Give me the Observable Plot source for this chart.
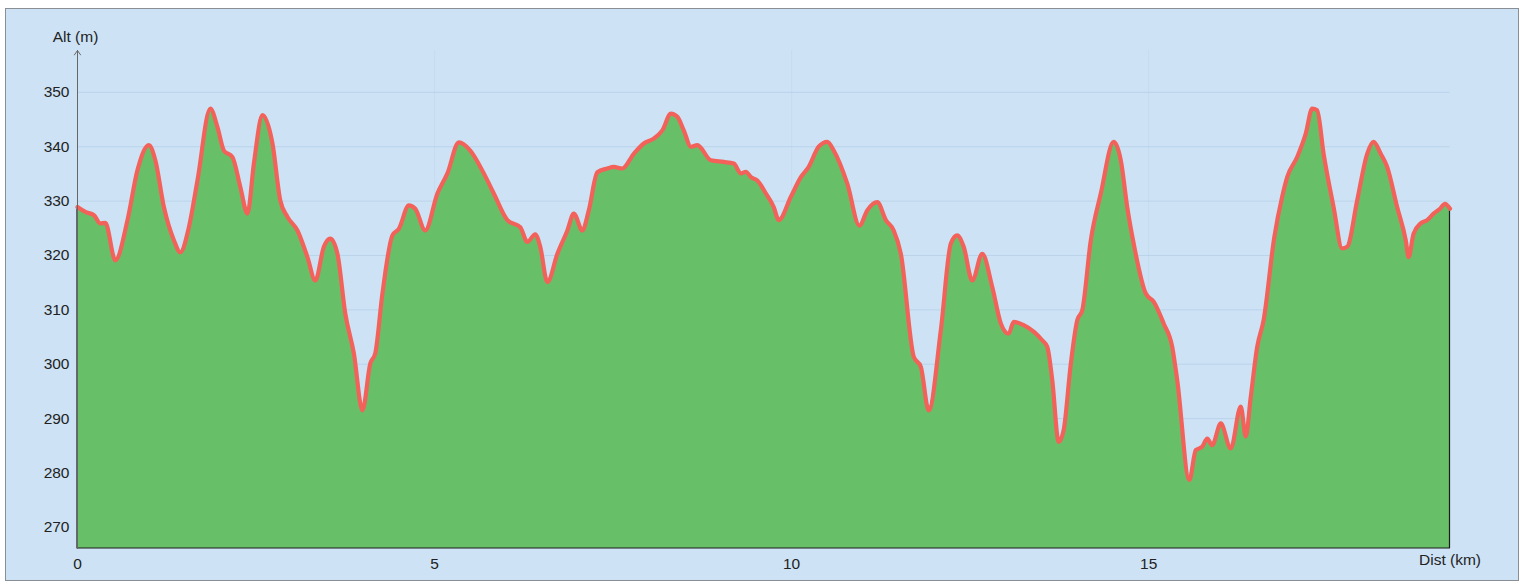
<!DOCTYPE html>
<html>
<head>
<meta charset="utf-8">
<script src="https://cdn.jsdelivr.net/npm/d3@7"></script>
<script src="https://cdn.jsdelivr.net/npm/@observablehq/plot@0.6"></script>
<style>
  html, body { margin: 0; padding: 0; background: #ffffff; }
  #wrap { position: relative; width: 1526px; height: 585px; overflow: hidden; }
  #panel { position: absolute; left: 5px; top: 8px; width: 1512px; height: 571px;
           background: #cde2f5; border: 1px solid #8a8f96; }
  #chart { position: absolute; left: 0; top: 0; }
</style>
</head>
<body>
<div id="wrap"><div id="panel"></div><div id="chart"></div></div>
<script>
// Distance along the route (km)
const dist = [
  0, 0.11, 0.23, 0.32, 0.39, 0.53, 0.70, 0.84, 1.00, 1.09,
  1.21, 1.35, 1.44, 1.56, 1.68, 1.86, 1.96, 2.05, 2.17, 2.28,
  2.38, 2.47, 2.59, 2.73, 2.84, 2.94, 3.08, 3.22, 3.33, 3.45,
  3.54, 3.64, 3.75, 3.87, 3.99, 4.10, 4.17, 4.27, 4.41, 4.50,
  4.64, 4.73, 4.87, 5.04, 5.18, 5.34, 5.50, 5.69, 5.83, 6.02,
  6.20, 6.30, 6.41, 6.48, 6.58, 6.72, 6.86, 6.95, 7.07, 7.16,
  7.28, 7.42, 7.51, 7.63, 7.79, 7.93, 8.07, 8.19, 8.31, 8.40,
  8.49, 8.59, 8.68, 8.87, 9.05, 9.19, 9.29, 9.36, 9.43, 9.52,
  9.64, 9.75, 9.82, 9.99, 10.13, 10.24, 10.38, 10.50, 10.59, 10.78,
  10.95, 11.06, 11.20, 11.32, 11.43, 11.53, 11.71, 11.81, 11.92, 12.09,
  12.23, 12.32, 12.41, 12.53, 12.67, 12.81, 12.93, 13.04, 13.11, 13.25,
  13.39, 13.51, 13.58, 13.65, 13.74, 13.81, 13.91, 14.00, 14.07, 14.19,
  14.33, 14.51, 14.61, 14.70, 14.79, 14.96, 15.07, 15.21, 15.33, 15.40,
  15.57, 15.66, 15.75, 15.82, 15.89, 16.01, 16.15, 16.29, 16.36, 16.43,
  16.52, 16.61, 16.76, 16.87, 16.94, 17.08, 17.20, 17.29, 17.36, 17.45,
  17.59, 17.71, 17.78, 17.92, 18.06, 18.15, 18.25, 18.34, 18.48, 18.60,
  18.64, 18.71, 18.81, 18.90, 18.99, 19.08, 19.15, 19.22
];
// Altitude (m)
const alt = [
  328.9, 328.0, 327.4, 325.9, 326.0, 319.1, 326.5, 335.7, 340.3, 337.5,
  328.9, 322.8, 320.6, 325.2, 333.8, 347.0, 343.6, 339.3, 338.1, 332.6,
  327.7, 336.9, 345.8, 340.6, 330.1, 327.1, 324.6, 319.7, 315.4, 321.6,
  323.1, 320.3, 309.3, 302.0, 291.5, 300.1, 302.0, 313.0, 323.7, 324.9,
  329.2, 328.6, 324.6, 331.4, 335.1, 340.8, 339.3, 335.1, 331.4, 326.5,
  325.2, 322.5, 323.9, 321.6, 315.1, 320.3, 324.6, 327.7, 324.6, 328.3,
  335.3, 336.0, 336.3, 336.0, 338.7, 340.6, 341.5, 343.0, 346.1, 345.5,
  343.0, 340.0, 340.3, 337.5, 337.2, 336.9, 335.1, 335.4, 334.4, 333.8,
  331.4, 328.9, 326.5, 330.8, 334.4, 336.3, 340.0, 340.9, 339.3, 333.2,
  325.5, 328.3, 329.8, 326.5, 324.6, 320.3, 301.4, 299.5, 291.5, 306.3,
  322.2, 323.7, 321.6, 315.4, 320.3, 314.2, 307.5, 305.6, 307.8, 307.2,
  306.0, 304.4, 303.2, 297.1, 285.7, 287.9, 300.1, 308.1, 309.9, 322.8,
  331.4, 340.9, 337.5, 328.9, 322.2, 313.0, 311.5, 307.5, 303.2, 297.1,
  278.7, 284.2, 284.8, 286.3, 285.1, 289.1, 284.5, 292.2, 286.7, 294.0,
  303.2, 308.1, 323.4, 330.8, 334.4, 338.1, 342.4, 347.0, 346.7, 338.7,
  328.9, 321.3, 321.6, 330.1, 338.7, 340.9, 338.7, 336.3, 328.9, 322.8,
  319.7, 324.0, 325.9, 326.5, 327.7, 328.6, 329.5, 328.6
];
const xTicks = [0, 5, 10, 15];
const yTicks = [270, 280, 290, 300, 310, 320, 330, 340, 350];
const xDomain = [0, 19.22];
const yDomain = [266.1, 357.7];
const xLabel = "Dist (km)";
const yLabel = "Alt (m)";

const data = dist.map((d, i) => ({dist: d, alt: alt[i]}));

const chart = Plot.plot({
  width: 1526,
  height: 585,
  marginLeft: 77,
  marginRight: 76.5,
  marginTop: 50,
  marginBottom: 37,
  style: {background: "transparent", fontFamily: "'Liberation Sans', Arial, sans-serif", fontSize: "15px", color: "#222"},
  x: {domain: xDomain, ticks: xTicks, label: null},
  y: {domain: yDomain, ticks: yTicks, label: null},
  marks: [
    Plot.gridY(yTicks, {stroke: "#a7c3de", strokeOpacity: 0.45, strokeWidth: 1}),
    Plot.gridX(xTicks.slice(1), {stroke: "#a7c3de", strokeOpacity: 0.18, strokeWidth: 1}),
    Plot.areaY(data, {x: "dist", y: "alt", y1: yDomain[0], fill: "#67c067", stroke: "#1c1c1c", strokeWidth: 1.2, curve: "monotone-x"}),
    Plot.line(data, {x: "dist", y: "alt", stroke: "#f2625a", strokeWidth: 4.2, strokeLinejoin: "round", strokeLinecap: "round", curve: "monotone-x"}),
    Plot.arrow([0], {x1: xDomain[0], x2: xDomain[0], y1: yDomain[0], y2: yDomain[1], stroke: "#666", strokeWidth: 1, headLength: 8, headAngle: 70}),
    Plot.axisX(xTicks, {tickSize: 0, tickPadding: 9, fontSize: 15.5, fill: "#222"}),
    Plot.axisY(yTicks, {tickSize: 0, tickPadding: 8, fontSize: 15.5, fill: "#222"}),
    Plot.text([yLabel], {frameAnchor: "top-left", text: d => d, dx: -2, dy: -9, lineAnchor: "bottom", textAnchor: "middle", fontSize: 15.5, fill: "#222"}),
    Plot.text([xLabel], {frameAnchor: "bottom-right", text: d => d, dy: 16, textAnchor: "middle", fontSize: 15.5, fill: "#222"})
  ]
});
document.getElementById("chart").appendChild(chart);
</script>
</body>
</html>
